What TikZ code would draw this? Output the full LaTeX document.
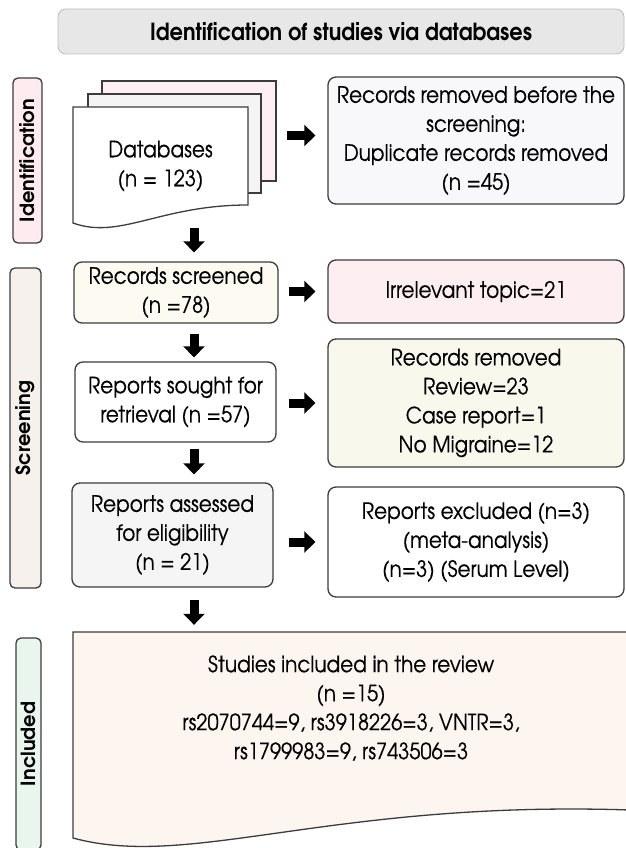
\documentclass[tikz,border=0pt]{standalone}
\usepackage{fontspec}
\setmainfont{texgyreadventor}[Extension=.otf, UprightFont=*-regular, BoldFont=*-bold,
  FakeStretch=0.89, UprightFeatures={FakeBold=0.3}]
\newfontfamily\sidefont{texgyreadventor}[Extension=.otf, UprightFont=*-bold]
\usetikzlibrary{positioning,arrows.meta,calc}
\definecolor{boxline}{HTML}{3C3C3C}
\definecolor{titlefill}{HTML}{E7E7E7}
\definecolor{titleline}{HTML}{BDBDBD}
\definecolor{idfill}{HTML}{FDEBEF}
\definecolor{scrfill}{HTML}{F7F1EE}
\definecolor{incfill}{HTML}{E9F6EE}
\definecolor{sheetpink}{HTML}{FDEFF3}
\definecolor{sheetgrey}{HTML}{F4F4F4}
\definecolor{dupfill}{HTML}{F8F8FA}
\definecolor{screenfill}{HTML}{FCFAF1}
\definecolor{topicfill}{HTML}{FDEEF2}
\definecolor{removefill}{HTML}{F8F9EC}
\definecolor{assessfill}{HTML}{F5F5F5}
\definecolor{studyfill}{HTML}{FDF5F0}

\tikzset{
  box/.style={draw=boxline, line width=1.3pt, rounded corners=8pt, align=center,
    inner sep=0pt, font=\fontsize{22.5}{29}\selectfont},
  sidebox/.style={draw=boxline, line width=1.3pt, rounded corners=5pt, rotate=90,
    inner sep=0pt, font=\fontsize{19.5}{22}\sidefont},
  sheet/.style={draw=boxline, line width=1.3pt},
  fatarrow/.style={line width=9pt, -{Triangle[length=11pt,width=21pt]}},
}

\begin{document}
\begin{tikzpicture}[x=1pt,y=-1pt]
  \useasboundingbox (0,0) rectangle (625,848);
  % title
  \node[box, draw=titleline, line width=0.8pt, fill=titlefill, minimum width=566pt, minimum height=45pt,
    font=\fontsize{23.5}{24}\selectfont\bfseries] (title) at (341,31.5) {Identification of studies via databases};
  % phase labels
  \node[sidebox, fill=idfill, minimum width=165pt, minimum height=29pt] (idlab) at (27.5,160.5) {Identification};
  \node[sidebox, fill=scrfill, minimum width=320pt, minimum height=31pt] (scrlab) at (25.5,428) {Screening};
  \node[sidebox, fill=incfill, minimum width=212pt, minimum height=25pt] (inclab) at (28.5,744) {Included};

  % databases (stacked documents)
  \draw[sheet, fill=sheetpink] (102,81) rectangle (276,181);
  \draw[sheet, fill=sheetgrey] (88,94) rectangle (261,193);
  \draw[sheet, fill=white] (73,223) -- (73,107) -- (248,107) -- (248,205)
    .. controls (160,205) and (120,240) .. cycle;
  \node[align=center, minimum width=175pt, minimum height=118pt, inner sep=0pt,
    font=\fontsize{22.5}{29}\selectfont] (db) at (160.5,166) {Databases\\(n = 123)};
  \node[box, fill=dupfill, minimum width=296pt, minimum height=127pt] (dup) at (476,140.5)
    {Records removed before the\\screening:\\Duplicate records removed\\(n =45)};

  % screening
  \node[box, fill=screenfill, minimum width=204pt, minimum height=61pt] (screened) at (176,292.5)
    {Records screened\\(n =78)};
  \node[box, fill=topicfill, minimum width=296pt, minimum height=63pt] (topic) at (476,291.5)
    {Irrelevant topic=21};
  \node[box, fill=white, minimum width=201pt, minimum height=80pt] (sought) at (175.5,402)
    {Reports sought for\\retrieval (n =57)};
  \node[box, fill=removefill, minimum width=296pt, minimum height=128pt] (removed) at (476,403)
    {Records removed\\Review=23\\Case report=1\\No Migraine=12};
  \node[box, fill=assessfill, minimum width=201pt, minimum height=104pt] (assessed) at (172.5,535)
    {Reports assessed\\for eligibility\\(n = 21)};
  \node[box, fill=white, minimum width=296pt, minimum height=110pt] (excluded) at (476,542)
    {Reports excluded (n=3)\\(meta-analysis)\\(n=3) (Serum Level)};

  % included
  \draw[sheet, fill=studyfill] (73,838) -- (73,632) -- (640,632) -- (640,810) -- (630,810)
    .. controls (330,800) and (190,870) .. cycle;
  \node[minimum width=567pt, minimum height=206pt, inner sep=0pt] (incl) at (356.5,735) {};
  \node[align=center, inner sep=0pt, font=\fontsize{22.5}{29}\selectfont] (studies) at (351,708)
    {Studies included in the review\\(n =15)\\rs2070744=9, rs3918226=3, VNTR=3,\\rs1799983=9, rs743506=3};

  % arrows
  \coordinate (ax) at (194,0);
  \draw[fatarrow] (db.south -| ax) ++(0,3) -- ([yshift=9pt]screened.north -| ax);
  \draw[fatarrow] ([yshift=-10pt]screened.south -| ax) -- ([yshift=4pt]sought.north -| ax);
  \draw[fatarrow] ([yshift=-6pt]sought.south -| ax) -- ([yshift=8pt]assessed.north -| ax);
  \draw[fatarrow] ([yshift=-12pt]assessed.south -| ax) -- ([yshift=7pt]incl.north -| ax);
  \draw[fatarrow] ([yshift=5pt]dup.west) ++(-40,0) -- ([xshift=-12pt,yshift=5pt]dup.west);
  \draw[fatarrow] ([xshift=10pt]screened.east |- topic.west) -- ([xshift=-12pt]topic.west);
  \draw[fatarrow] ([xshift=12pt]sought.east |- removed.west) -- ([xshift=-12pt]removed.west);
  \draw[fatarrow] ([xshift=15pt]assessed.east |- excluded.west) -- ([xshift=-12pt]excluded.west);
\end{tikzpicture}
\end{document}
